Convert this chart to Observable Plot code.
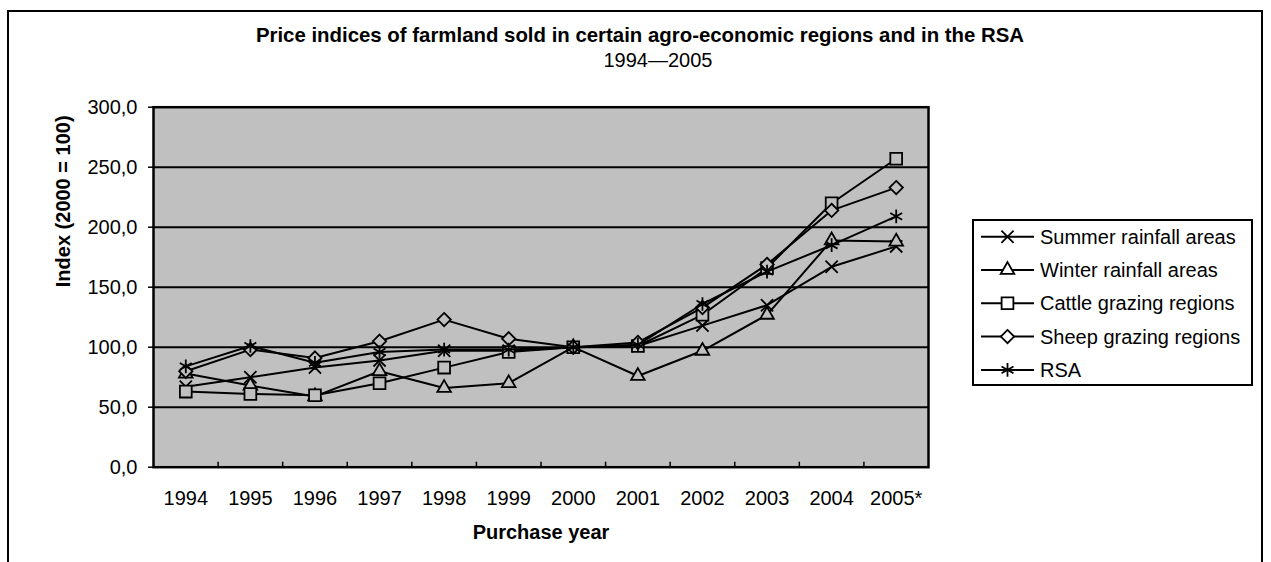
<!DOCTYPE html>
<html><head><meta charset="utf-8">
<script src="https://cdn.jsdelivr.net/npm/d3@7"></script>
<script src="https://cdn.jsdelivr.net/npm/@observablehq/plot@0.6"></script>
<style>
body{margin:0;background:#fff;font-family:Arial,"Liberation Sans",sans-serif;color:#000;}
#frame{position:absolute;left:7px;top:10px;width:1256px;height:600px;border:2px solid #000;box-sizing:border-box;}
.hdr{position:absolute;left:0;width:1280px;text-align:center;font-size:20px;line-height:20px;white-space:nowrap;}
#title{top:25px;font-weight:bold;font-size:20.4px;}
#subtitle{top:50px;left:18px;}
#chart{position:absolute;left:0;top:80px;}
#legend{position:absolute;left:972px;top:219px;width:281px;height:167px;border:2px solid #000;box-sizing:border-box;background:#fff;}
#legend svg{position:absolute;left:-2px;top:-2px;overflow:visible;}
</style></head>
<body>
<div id="frame"></div>
<div class="hdr" id="title">Price indices of farmland sold in certain agro-economic regions and in the RSA</div>
<div class="hdr" id="subtitle">1994—2005</div>
<div id="chart"></div>
<div id="legend"></div>
<script>
const years = ["1994","1995","1996","1997","1998","1999","2000","2001","2002","2003","2004","2005*"];
const summer = [67, 75, 83, 89, 97, 97, 100, 101, 118, 135, 167, 184];
const winter = [78, 68, 59, 80, 66, 70, 100, 76, 97, 127, 189, 188];
const cattle = [63, 61, 60, 70, 83, 96, 100, 101, 127, 166, 220, 257];
const sheep  = [80, 98, 91, 105, 123, 107, 100, 104, 133, 169, 214, 233];
const rsa    = [84, 101, 87, 96, 98, 98, 100, 102, 136, 163, 185, 209];
const seriesNames = ["Summer rainfall areas","Winter rainfall areas","Cattle grazing regions","Sheep grazing regions","RSA"];
const yTicks = [0, 50, 100, 150, 200, 250, 300];
const gridValues = [50, 100, 150, 200, 250];

const seriesValues = [summer, winter, cattle, sheep, rsa];
const symbols = ["times", "triangle2", "square2", "diamond2", "asterisk"];
const d3symbols = [d3.symbolTimes, d3.symbolTriangle2, d3.symbolSquare2, d3.symbolDiamond2, d3.symbolAsterisk];
const radii = [5.6, 6.5, 7.5, 6, 6.5];

const idx = d3.range(years.length);
const boundaries = idx.slice(1).map(i => i - 0.5);

const W = 1271, H = 482, mL = 153, mR = 343, mT = 26.7, mB = 95.3;
const plotH = H - mT - mB;

const seriesMarks = seriesNames.flatMap((name, k) => {
  const rows = idx.map(i => ({i, v: seriesValues[k][i]}));
  return [
    Plot.line(rows, {x: "i", y: "v", stroke: "#000", strokeWidth: 2}),
    Plot.dot(rows, {x: "i", y: "v", symbol: symbols[k], r: radii[k], stroke: "#000", strokeWidth: 1.8, fill: "#C0C0C0"})
  ];
});

const chart = Plot.plot({
  width: W, height: H,
  marginLeft: mL, marginRight: mR, marginTop: mT, marginBottom: mB,
  style: {fontFamily: "Arial, 'Liberation Sans', sans-serif", fontSize: "20px", color: "#000", background: "transparent"},
  x: {type: "linear", domain: [-0.5, years.length - 0.5]},
  y: {domain: [0, 300]},
  marks: [
    Plot.frame({fill: "#C0C0C0"}),
    Plot.ruleY(gridValues, {stroke: "#000", strokeWidth: 2}),
    Plot.ruleX(boundaries, {x: d => d, insetTop: plotH - 5, stroke: "#000", strokeWidth: 1.5}),
    ...seriesMarks,
    Plot.frame({stroke: "#000", strokeWidth: 2.5}),
    Plot.axisY({ticks: yTicks, tickSize: 5, tickPadding: 11, strokeWidth: 1.5,
      tickFormat: d => d.toFixed(1).replace(".", ","), fontSize: 20, label: null}),
    Plot.axisX({ticks: idx, tickSize: 0, tickPadding: 24, tickFormat: i => years[i], fontSize: 20, label: null}),
    Plot.text(["Purchase year"], {frameAnchor: "bottom", dy: 72, lineAnchor: "bottom", fontWeight: "bold", fontSize: 20}),
    Plot.text(["Index (2000 = 100)"], {frameAnchor: "left", dx: -90, rotate: -90, fontWeight: "bold", fontSize: 20})
  ]
});
document.getElementById("chart").appendChild(chart);

// legend
const lg = d3.select("#legend").append("svg").attr("width", 281).attr("height", 167);
seriesNames.forEach((name, k) => {
  const cy = 17.7 + k * 33.3;
  const g = lg.append("g").attr("transform", `translate(0,${cy})`);
  g.append("line").attr("x1", 9).attr("x2", 62).attr("y1", 0).attr("y2", 0).attr("stroke", "#000").attr("stroke-width", 2);
  g.append("path").attr("transform", "translate(35.5,0)")
    .attr("d", d3.symbol(d3symbols[k], radii[k] * radii[k] * Math.PI)())
    .attr("fill", "#fff").attr("stroke", "#000").attr("stroke-width", 1.8);
  g.append("text").attr("x", 68).attr("y", 0).attr("dy", "0.35em")
    .attr("font-size", 20).attr("font-family", "Arial, 'Liberation Sans', sans-serif").text(name);
});
</script>
</body></html>
